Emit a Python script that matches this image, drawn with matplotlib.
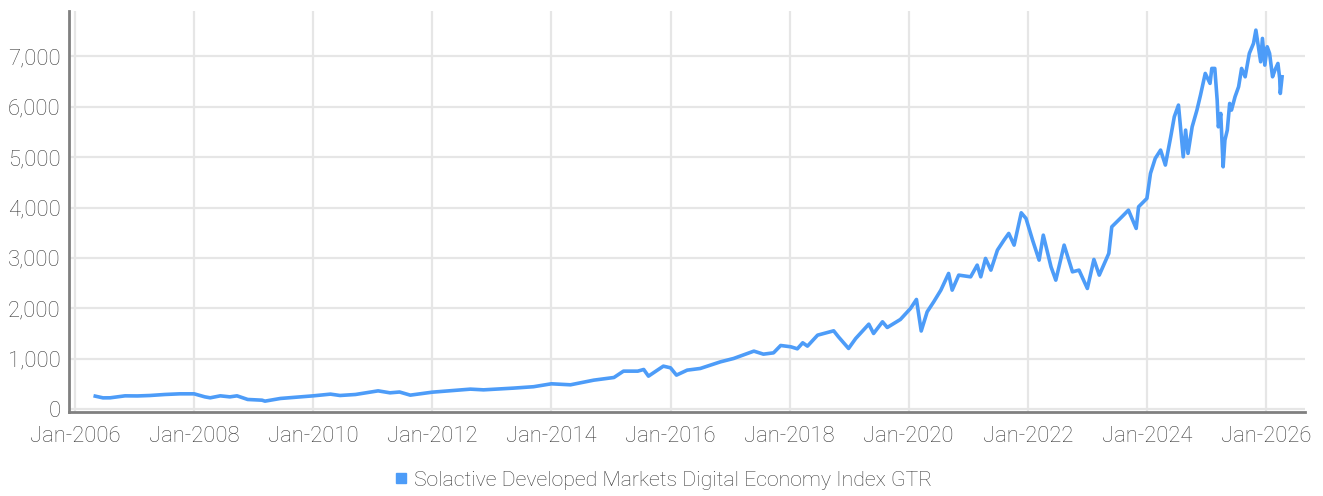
import matplotlib.pyplot as plt
from matplotlib.lines import Line2D

# index level (decimal year, value)
years = [
    2006.34, 2006.47, 2006.59, 2006.84, 2007.05, 2007.26, 2007.51, 2007.76, 2008.0,
    2008.18, 2008.27, 2008.44, 2008.6, 2008.72, 2008.9, 2009.14, 2009.19, 2009.45,
    2009.78, 2010.0, 2010.29, 2010.45, 2010.71, 2010.96, 2011.09, 2011.29, 2011.45,
    2011.63, 2012.0, 2012.3, 2012.64, 2012.86, 2013.36, 2013.7, 2014.0, 2014.32,
    2014.71, 2015.05, 2015.21, 2015.45, 2015.55, 2015.63, 2015.88, 2016.0, 2016.1,
    2016.28, 2016.5, 2016.67, 2016.84, 2017.06, 2017.4, 2017.56, 2017.73, 2017.85,
    2018.02, 2018.13, 2018.22, 2018.3, 2018.47, 2018.74, 2018.82, 2018.99, 2019.11,
    2019.33, 2019.41, 2019.56, 2019.64, 2019.86, 2020.03, 2020.13, 2020.21, 2020.31,
    2020.42, 2020.54, 2020.67, 2020.73, 2020.84, 2021.04, 2021.15, 2021.21, 2021.29,
    2021.38, 2021.49, 2021.6, 2021.68, 2021.77, 2021.89, 2021.97, 2022.08, 2022.19,
    2022.26, 2022.39, 2022.47, 2022.61, 2022.75, 2022.86, 2023.0, 2023.11, 2023.2,
    2023.36, 2023.41, 2023.58, 2023.69, 2023.82, 2023.86, 2024.0, 2024.06, 2024.14,
    2024.23, 2024.31, 2024.4, 2024.46, 2024.53, 2024.61, 2024.65, 2024.69, 2024.76,
    2024.84, 2024.9, 2024.98, 2025.06, 2025.09, 2025.14, 2025.18, 2025.2, 2025.24,
    2025.28, 2025.31, 2025.35, 2025.39, 2025.42, 2025.48, 2025.54, 2025.59, 2025.65,
    2025.72, 2025.79, 2025.83, 2025.88, 2025.91, 2025.94, 2025.98, 2026.02, 2026.06,
    2026.11, 2026.15, 2026.2, 2026.23, 2026.24, 2026.27,
]
values = [
    258, 224, 225, 264, 262, 271, 291, 304, 304,
    244, 225, 264, 244, 264, 192, 178, 159, 212,
    244, 264, 298, 271, 291, 337, 363, 324, 340,
    278, 337, 365, 397, 383, 417, 445, 503, 483,
    575, 628, 754, 754, 787, 655, 853, 820, 675,
    774, 807, 873, 939, 1005, 1151, 1091, 1117, 1263,
    1237, 1197, 1316, 1250, 1468, 1554, 1435, 1204, 1402,
    1686, 1501, 1733, 1620, 1779, 1997, 2176, 1550, 1931,
    2129, 2361, 2692, 2361, 2659, 2625, 2857, 2625, 2990,
    2758, 3155, 3353, 3486, 3254, 3895, 3783, 3353, 2956,
    3452, 2823, 2559, 3254, 2724, 2758, 2394, 2970, 2659,
    3089, 3617, 3816, 3948, 3585, 4014, 4180, 4676, 4974,
    5139, 4842, 5403, 5800, 6032, 5006, 5535, 5073, 5601,
    5932, 6230, 6660, 6462, 6759, 6759, 6131, 5601, 5866,
    4808, 5337, 5535, 6065, 5932, 6197, 6396, 6759, 6593,
    7057, 7255, 7519, 7123, 6891, 7354, 6825, 7189, 7057,
    6593, 6726, 6858, 6560, 6263, 6593,
]
series_name = "Solactive Developed Markets Digital Economy Index GTR"
tick_years = list(range(2006, 2027, 2))
tick_labels = ["Jan-%d" % y for y in tick_years]
y_ticks = list(range(0, 8000, 1000))

plt.rcParams['font.family'] = ['Roboto', 'DejaVu Sans']
plt.rcParams['font.weight'] = 'light'

blue = '#4d9cf8'
grey_text = '#3c3c3c'

fig = plt.figure(figsize=(13.23, 4.96), dpi=100)
ax = fig.add_axes([0.0522, 0.169, 0.9342, 0.809])

ax.plot(years, values, color=blue, linewidth=2.6, solid_joinstyle='round')

ax.set_xlim(2005.9, 2026.655)
ax.set_ylim(-60, 7900)
ax.set_xticks(tick_years)
ax.set_xticklabels(tick_labels)
ax.set_yticks(y_ticks)
ax.set_yticklabels(["{:,}".format(v) for v in y_ticks])

ax.grid(True, color='#e6e6e6', linewidth=1.6)
ax.set_axisbelow(True)
for s in ['top', 'right']:
    ax.spines[s].set_visible(False)
for s in ['left', 'bottom']:
    ax.spines[s].set_color('#808080')
    ax.spines[s].set_linewidth(2)
ax.tick_params(axis='both', length=0, labelsize=15.8, labelcolor=grey_text)
ax.tick_params(axis='x', pad=10)
ax.tick_params(axis='y', pad=6)

handle = Line2D([], [], marker='s', color=blue, linestyle='None', markersize=7)
fig.legend([handle], [series_name], loc='center', bbox_to_anchor=(0.5, 0.032),
           frameon=False, fontsize=15.3, labelcolor=grey_text,
           handletextpad=0.1, handlelength=1.0)

fig.savefig('out.png', dpi=100)
